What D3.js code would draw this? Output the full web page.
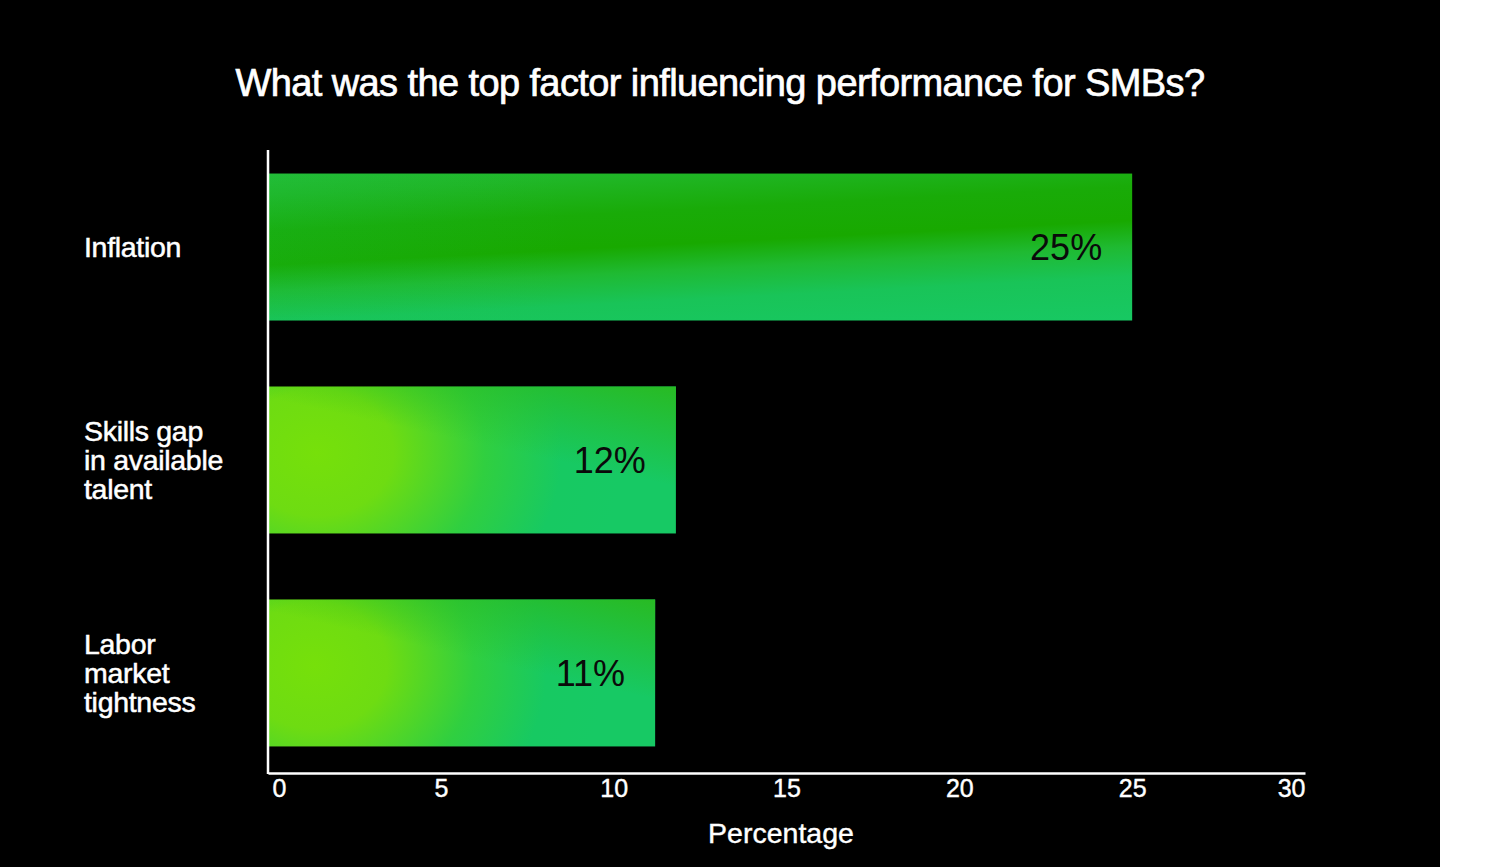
<!DOCTYPE html>
<html><head><meta charset="utf-8">
<script src="https://cdn.jsdelivr.net/npm/d3@7"></script>
<style>
html,body{margin:0;padding:0;background:#fff;}
svg{display:block;}
text{font-family:"Liberation Sans","Helvetica Neue",Arial,sans-serif;}
</style></head>
<body>
<script>
const title = "What was the top factor influencing performance for SMBs?";
const categories = [["Inflation"], ["Skills gap", "in available", "talent"], ["Labor", "market", "tightness"]];
const values = [25, 11.8, 11.2];
const xTicks = [0, 5, 10, 15, 20, 25, 30];
const xAxisTitle = "Percentage";

const W = 1500, H = 867;
const svg = d3.select("body").append("svg").attr("width", W).attr("height", H);
svg.append("rect").attr("x", 0).attr("y", 0).attr("width", 1440).attr("height", H).attr("fill", "#000");

const x = d3.scaleLinear().domain([0, 30]).range([268, 1305]);
const y = d3.scaleBand().domain(d3.range(values.length)).range([148, 772]).paddingInner(0.31).paddingOuter(0.12);

const defs = svg.append("defs");
// slanted gradient for the top bar
const b0 = y(0), bh = y.bandwidth();
const g1 = defs.append("linearGradient").attr("id", "g1").attr("gradientUnits", "userSpaceOnUse")
  .attr("x1", 700).attr("y1", b0 - 25).attr("x2", 700 + 0.052 * 200).attr("y2", b0 - 25 + 200);
[[0, "#24bc34"], [0.12, "#20b626"], [0.3, "#19ab08"], [0.47, "#18a900"], [0.6, "#1fba32"], [0.75, "#19c458"], [1, "#17c964"]].forEach(s =>
  g1.append("stop").attr("offset", s[0]).attr("stop-color", s[1]));
const g1b = defs.append("linearGradient").attr("id", "g1b").attr("x1", 0).attr("y1", 0).attr("x2", 1).attr("y2", 0);
[[0, "#17c964", 0.12], [0.35, "#17c964", 0.0], [1, "#16a800", 0.0]].forEach(s =>
  g1b.append("stop").attr("offset", s[0]).attr("stop-color", s[1]).attr("stop-opacity", s[2]));
// radial for other bars
const g2 = defs.append("radialGradient").attr("id", "g2").attr("cx", 0.12).attr("cy", 0.45).attr("r", 0.75)
  .attr("gradientTransform", "translate(0.12,0.45) scale(1,2.3) translate(-0.12,-0.45)");
[[0, "#76e00a"], [0.25, "#6edc12"], [0.55, "#30cf40"], [0.8, "#17c962"], [1, "#17c964"]].forEach(s =>
  g2.append("stop").attr("offset", s[0]).attr("stop-color", s[1]));
const g3 = defs.append("linearGradient").attr("id", "g3").attr("x1", 1).attr("y1", 0).attr("x2", 0.7).attr("y2", 0.5);
[[0, "#2ab91c", 0.9], [1, "#2ab91c", 0]].forEach(s =>
  g3.append("stop").attr("offset", s[0]).attr("stop-color", s[1]).attr("stop-opacity", s[2]));

const bars = svg.append("g").selectAll("g").data(values).join("g");
bars.append("rect")
  .attr("x", x(0)).attr("y", (d, i) => y(i))
  .attr("width", d => x(d) - x(0)).attr("height", y.bandwidth())
  .attr("fill", (d, i) => i === 0 ? "url(#g1)" : "url(#g2)");
bars.append("rect")
  .attr("x", x(0)).attr("y", (d, i) => y(i))
  .attr("width", d => x(d) - x(0)).attr("height", y.bandwidth())
  .attr("fill", (d, i) => i === 0 ? "url(#g1b)" : "url(#g3)");
bars.append("text")
  .attr("x", d => x(d) - 30).attr("y", (d, i) => y(i) + y.bandwidth() / 2)
  .attr("dy", "0.36em").attr("text-anchor", "end")
  .attr("font-size", 36).attr("fill", "#0a0a0a")
  .text(d => d3.format(".0f")(d) + "%");

// axes
svg.append("line").attr("x1", 268).attr("x2", 268).attr("y1", 150).attr("y2", 774)
  .attr("stroke", "#fff").attr("stroke-width", 2.5);
const xAxis = d3.axisBottom(x).tickValues(xTicks).tickSize(0).tickPadding(6).tickFormat(d3.format("d"));
const ax = svg.append("g").attr("transform", "translate(0,773)").call(xAxis);
ax.select(".domain").attr("stroke", "#fff").attr("stroke-width", 2.5);
ax.selectAll("text").attr("fill", "#fff").attr("font-size", 25).attr("stroke", "#fff").attr("stroke-width", 0.4)
  .attr("font-family", "Liberation Sans, Arial, sans-serif")
  .attr("text-anchor", (d, i) => i === 0 ? "start" : (i === xTicks.length - 1 ? "end" : "middle"))
  .attr("dx", (d, i) => i === 0 ? 4 : 0);

svg.append("text").attr("x", 781).attr("y", 843).attr("text-anchor", "middle")
  .attr("font-size", 28.5).attr("fill", "#fff").attr("stroke", "#fff").attr("stroke-width", 0.4).text(xAxisTitle);

// category labels
const lab = svg.append("g").selectAll("text").data(categories).join("text")
  .attr("x", 84).attr("font-size", 28.5).attr("fill", "#fff").attr("stroke", "#fff").attr("stroke-width", 0.5)
  .attr("letter-spacing", -0.3)
  .attr("transform", (d, i) => `translate(0,${y(i) + y.bandwidth() / 2 - (d.length - 1) * 29 / 2})`);
lab.selectAll("tspan").data(d => d).join("tspan")
  .attr("x", 84).attr("y", (d, j) => j * 29).attr("dy", "0.35em").text(d => d);

// title
svg.append("text").attr("x", 720).attr("y", 96).attr("text-anchor", "middle")
  .attr("font-size", 38).attr("fill", "#fff").attr("stroke", "#fff").attr("stroke-width", 0.7)
  .attr("letter-spacing", -0.6).text(title);
</script>
</body></html>
